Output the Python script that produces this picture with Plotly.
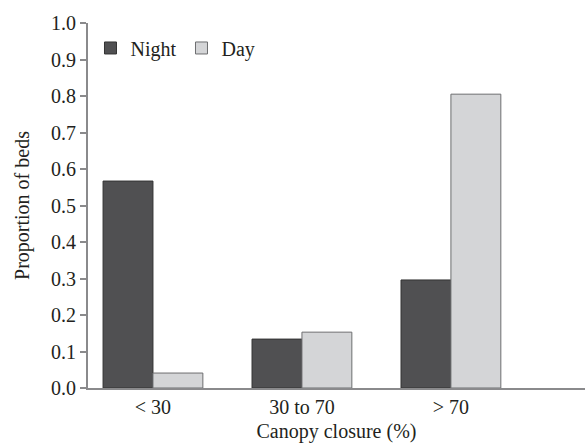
import plotly.graph_objects as go

categories = ["< 30", "30 to 70", "> 70"]
night = [0.567, 0.134, 0.296]
day = [0.041, 0.153, 0.805]
y_ticks = [0.0, 0.1, 0.2, 0.3, 0.4, 0.5, 0.6, 0.7, 0.8, 0.9, 1.0]

family = "Liberation Serif, Times New Roman, serif"
txt = "#231f20"
axis_gray = "#8a8a8c"

fig = go.Figure()
fig.add_trace(go.Bar(x=categories, y=night, name="Night",
                     marker=dict(color="#505052", line=dict(color="#333333", width=1))))
fig.add_trace(go.Bar(x=categories, y=day, name="Day",
                     marker=dict(color="#d4d5d7", line=dict(color="#6d6e70", width=1))))

fig.update_layout(
    width=586, height=446,
    margin=dict(l=88, r=1, t=23, b=58),
    paper_bgcolor="white", plot_bgcolor="white",
    font=dict(family=family, size=19, color=txt),
    barmode="group", bargap=0.33, bargroupgap=0,
    showlegend=True,
    legend=dict(orientation="h", x=0.005, y=0.985, xanchor="left", yanchor="top",
                font=dict(family=family, size=20, color=txt), itemwidth=30,
                bgcolor="rgba(0,0,0,0)"),
    xaxis=dict(range=[-0.436, 2.9], showline=True, linecolor=axis_gray, linewidth=2,
               ticks="", showgrid=False, zeroline=False,
               tickfont=dict(family=family, size=20, color=txt),
               title=dict(text="Canopy closure (%)", standoff=7,
                          font=dict(family=family, size=20, color=txt))),
    yaxis=dict(range=[0, 1.0], tickvals=y_ticks, tickformat=".1f",
               showline=True, linecolor=axis_gray, linewidth=2,
               ticks="outside", ticklen=6, tickcolor=axis_gray, tickwidth=2,
               showgrid=False, zeroline=False,
               tickfont=dict(family=family, size=20, color=txt),
               title=dict(text="Proportion of beds", standoff=16,
                          font=dict(family=family, size=20, color=txt))),
)

fig.write_html("out.html", config={"displayModeBar": False},
               post_script="document.body.style.margin='0';document.body.style.overflow='hidden';")
